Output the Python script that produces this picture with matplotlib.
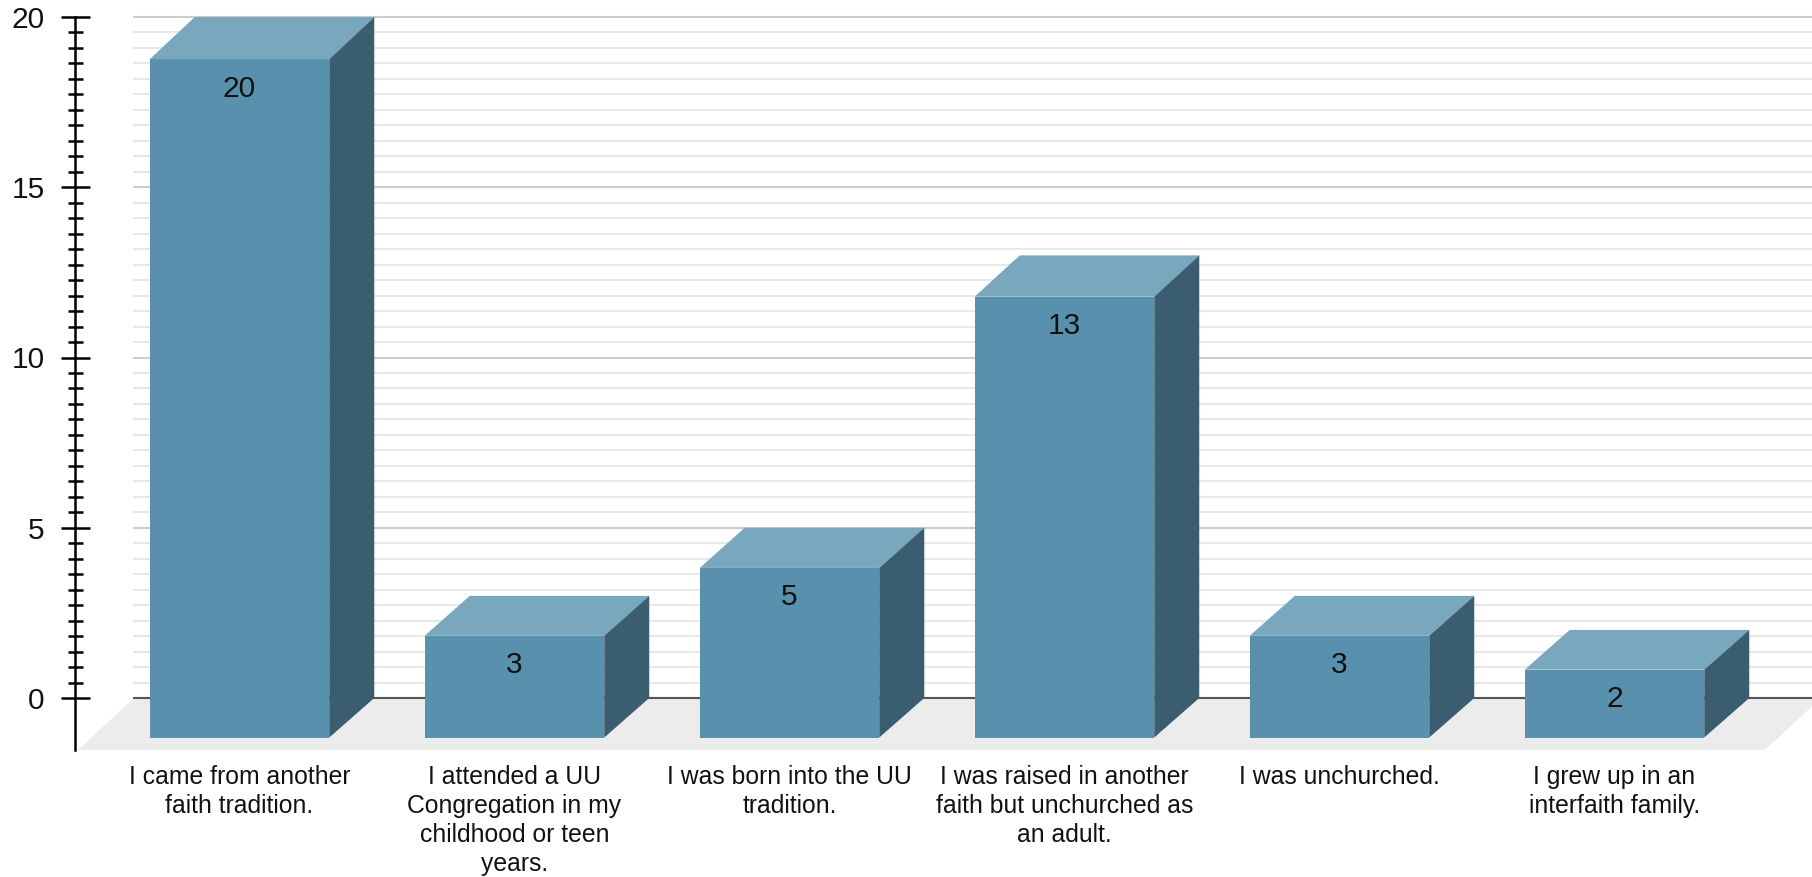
import matplotlib
matplotlib.use("Agg")
import matplotlib.pyplot as plt
from matplotlib.patches import Polygon

plt.rcParams['font.family'] = ['Liberation Sans', 'DejaVu Sans']

categories = [
    "I came from another\nfaith tradition.",
    "I attended a UU\nCongregation in my\nchildhood or teen\nyears.",
    "I was born into the UU\ntradition.",
    "I was raised in another\nfaith but unchurched as\nan adult.",
    "I was unchurched.",
    "I grew up in an\ninterfaith family.",
]
values = [20, 3, 5, 13, 3, 2]
major_ticks = [0, 5, 10, 15, 20]

W, H = 1812, 877
X0, XSTEP = 239.5, 275.0     # pixel of category 0, pixels per category
Y0, YSTEP = 698.0, 34.05     # pixel of value 0, pixels per unit
BAR_W = 179.5 / XSTEP
DX = 45 / XSTEP
DY = 39.5 / YSTEP
FRONT_K = 0.996
FRONT = '#5990AE'
TOP = '#79A7BE'
SIDE = '#3A5E70'

fig = plt.figure(figsize=(W / 100, H / 100), dpi=100, facecolor='white')
AX_L, AX_B = 133, 750
ax = fig.add_axes([AX_L / W, (H - AX_B) / H, (W - AX_L) / W, AX_B / H])
ax.set_xlim((AX_L - X0) / XSTEP, (W - X0) / XSTEP)
y_low = (Y0 - AX_B) / YSTEP
ax.set_ylim(y_low, Y0 / YSTEP)
ax.patch.set_alpha(0)

for s in ('top', 'right', 'bottom'):
    ax.spines[s].set_visible(False)
ax.spines['left'].set_position(('outward', (AX_L - 75) * 0.72))
ax.spines['left'].set_bounds(y_low, 20)
ax.spines['left'].set_linewidth(1.8)
ax.spines['left'].set_color('black')

minor_ticks = [20 * k / 44 for k in range(1, 44) if k % 11]
ax.set_yticks(major_ticks)
ax.set_yticks(minor_ticks, minor=True)
ax.tick_params(axis='y', which='major', direction='inout', length=29 * 0.72, width=1.8,
               pad=11.3, labelsize=21.5, labelcolor='#111111')
ax.tick_params(axis='y', which='minor', direction='inout', length=15 * 0.72, width=1.8)
ax.grid(True, axis='y', which='major', color='#cccccc', lw=1.5)
ax.grid(True, axis='y', which='minor', color='#e8e8e8', lw=1.5)
ax.set_axisbelow(True)

ax.set_xticks(range(len(categories)), categories, fontsize=17.8, linespacing=1.25, color='#111111')
ax.tick_params(axis='x', length=0, pad=11)

# floor
fl, fr = (78 - X0) / XSTEP, (1765 - X0) / XSTEP
fdx = 56 / XSTEP
ax.add_patch(Polygon([(fl, y_low), (fr, y_low), (fr + fdx, 0), (fl + fdx, 0)],
                     closed=True, fc='#ececec', ec='none', zorder=1, clip_on=False))
ax.axhline(0, color='#555555', lw=1.5, zorder=1.5)

# bars
ax.bar(range(len(values)), [v * FRONT_K for v in values], width=BAR_W, bottom=-DY,
       color=FRONT, zorder=3)
for i, v in enumerate(values):
    l, r = i - BAR_W / 2, i + BAR_W / 2
    ft = -DY + v * FRONT_K
    ax.add_patch(Polygon([(l, ft), (r, ft), (r + DX, v), (l + DX, v)],
                         closed=True, fc=TOP, ec='none', zorder=3))
    ax.add_patch(Polygon([(r, -DY), (r, ft), (r + DX, v), (r + DX, 0)],
                         closed=True, fc=SIDE, ec='none', zorder=3))
    ax.text(i, ft - 29.5 / YSTEP, str(v), ha='center', va='center',
            fontsize=21.5, color='#111111', zorder=4)

fig.savefig('out.png', dpi=100, facecolor='white')
